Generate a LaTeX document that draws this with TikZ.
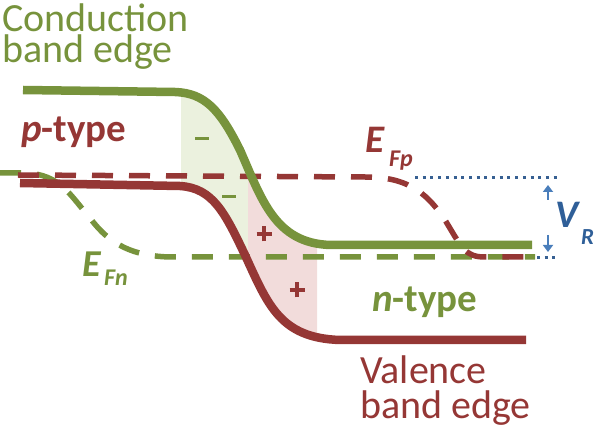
\documentclass[tikz,border=0pt]{standalone}
\usepackage{fontspec}
\setmainfont{Carlito}
\usetikzlibrary{arrows.meta}
\definecolor{cgreen}{HTML}{77933C}
\definecolor{cred}{HTML}{953735}
\definecolor{lgreen}{HTML}{EBF1DE}
\definecolor{lred}{HTML}{F2DCDB}
\definecolor{vblue}{HTML}{2F5F98}
\definecolor{dblue}{HTML}{376092}
\definecolor{ablue}{HTML}{4A7EBB}
\newcommand{\plussign}{\rule{15pt}{3.5pt}\llap{\rule{5.75pt}{0pt}\raisebox{-5.75pt}{\rule{3.5pt}{15pt}}\rule{5.75pt}{0pt}}}
\tikzset{
  band/.style={line width=8.5pt, line cap=butt},
  fermi/.style={line width=5.5pt, dash pattern=on 21pt off 16pt},
  dotline/.style={dblue, line width=3pt, dash pattern=on 3pt off 4.7pt},
  varrow/.style={ablue, line width=2pt, -{Triangle[width=10pt,length=7pt]}},
  lbl/.style={anchor=base west, inner sep=0pt},
  bigb/.style={font=\fontsize{39}{39}\selectfont\bfseries},
  subs/.style={font=\fontsize{24}{24}\selectfont\bfseries\itshape},
}
\begin{document}
\begin{tikzpicture}[x=1pt,y=-1pt]
\useasboundingbox (0,0) rectangle (600,430);
% shaded depletion regions
\begin{scope}
  \clip (23,90) -- (175,92) .. controls (205,93) and (220,110) .. (240,150) .. controls (262,200) and (275,243) .. (330,245) -- (600,245) -- (600,430) -- (0,430) -- (0,90) -- cycle;
  \begin{scope}
    \clip (181,0) rectangle (248,430);
    \fill[lgreen] (20,183) -- (180,186) .. controls (213,188) and (225,213) .. (245,255) .. controls (268,305) and (280,338) .. (340,340) -- (600,340) -- (600,0) -- (0,0) -- (0,183) -- cycle;
  \end{scope}
  \begin{scope}
    \clip (248,0) rectangle (317,430);
    \fill[lred] (20,183) -- (180,186) .. controls (213,188) and (225,213) .. (245,255) .. controls (268,305) and (280,338) .. (340,340) -- (600,340) -- (600,0) -- (0,0) -- (0,183) -- cycle;
  \end{scope}
\end{scope}
% charges
\node[cgreen, inner sep=0] (m1) at (202,139) {\rule{14pt}{3pt}};
\node[cgreen, inner sep=0] (m2) at (229,197) {\rule{14pt}{3pt}};
\node[cred, inner sep=0] (p1) at (264,234) {\plussign};
\node[cred, inner sep=0] (p2) at (297,290) {\plussign};
% quasi Fermi levels
\draw[fermi, cgreen] (0,173) -- (25,173) .. controls (60,174) and (70,195) .. (90,218) .. controls (105,238) and (125,256) .. (170,257) -- (535,257);
\draw[fermi, cred] (18,175) -- (365,177) .. controls (405,177) and (425,190) .. (445,220) .. controls (462,248) and (465,257) .. (485,257) -- (535,257);
% bands
\draw[band, cgreen] (23,90) -- (175,92) .. controls (205,93) and (220,110) .. (240,150) .. controls (262,200) and (275,243) .. (330,245) -- (532,245);
\draw[band, cred] (20,183) -- (180,186) .. controls (213,188) and (225,213) .. (245,255) .. controls (268,305) and (280,338) .. (340,340) -- (526,340);
% V_R markers
\coordinate (u1) at (415,178);
\coordinate (u2) at (558,178);
\coordinate (l1) at (537,258);
\coordinate (l2) at (560,258);
\draw[dotline] (u1) -- (u2);
\draw[dotline] (l1) -- (l2);
\coordinate (a1) at (548,200);
\coordinate (a1t) at (548,185);
\coordinate (a2) at (548,235);
\coordinate (a2t) at (548,252);
\draw[varrow] (a1) -- (a1t);
\draw[varrow] (a2) -- (a2t);
% labels (anchor = baseline of the last line)
\node[lbl, align=left, font=\fontsize{40}{31}\selectfont, cgreen] (cb) at (2,63) {Conduction\\band edge};
\node[lbl, align=left, font=\fontsize{40}{35}\selectfont, cred] (vb) at (360,418) {Valence\\band edge};
\node[lbl, bigb, cred] (pt) at (21,142) {\itshape p\upshape-type};
\node[lbl, bigb, cgreen] (nt) at (372,312) {\itshape n\upshape-type};
\node[lbl, font=\fontsize{39}{39}\selectfont\bfseries\itshape, cred] (efp) at (365,153) {E};
\node[lbl, subs, cred] (efps) at (389,167) {Fp};
\node[lbl, font=\fontsize{38}{38}\selectfont\bfseries\itshape, cgreen] (efn) at (82,277) {E};
\node[lbl, subs, cgreen] (efns) at (104,286) {Fn};
\node[lbl, font=\fontsize{39}{39}\selectfont\bfseries\itshape, vblue] (vr) at (555,228) {V};
\node[lbl, font=\fontsize{23}{23}\selectfont\bfseries\itshape, vblue] (vrs) at (581,245) {R};
\end{tikzpicture}
\end{document}
